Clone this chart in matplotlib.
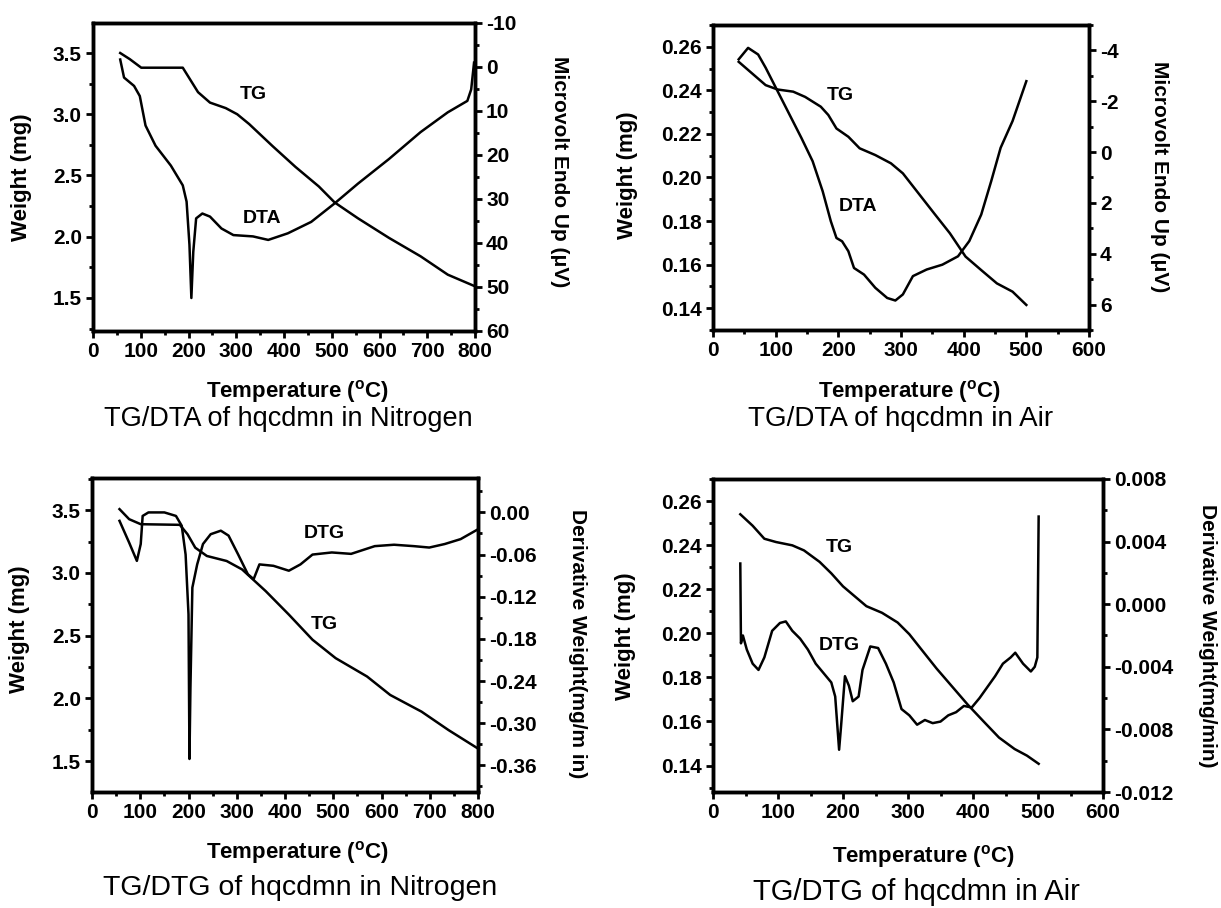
import numpy as np
import matplotlib
matplotlib.use('Agg')
import matplotlib.pyplot as plt
from matplotlib.ticker import MultipleLocator, FormatStrFormatter

plt.rcParams['font.family'] = ['Liberation Sans', 'DejaVu Sans']
plt.rcParams['font.weight'] = 'bold'
plt.rcParams['axes.unicode_minus'] = False
plt.rcParams['mathtext.fontset'] = 'custom'
plt.rcParams['mathtext.rm'] = 'Liberation Sans:bold'
plt.rcParams['mathtext.default'] = 'rm'

# --- TG/DTA in nitrogen ---
n_tg_T = [57, 77, 101, 140, 188, 204, 220, 245, 278, 302, 327, 376, 424, 473, 506, 555, 620, 686, 743, 800]
n_tg_W = [3.50, 3.45, 3.38, 3.38, 3.38, 3.28, 3.18, 3.095, 3.05, 3.0, 2.92, 2.74, 2.57, 2.41, 2.28, 2.15, 1.99, 1.84, 1.69, 1.595]
n_dta_T = [57, 65, 86, 98, 110, 131, 163, 188, 196, 202, 206, 210, 216, 229, 245, 269, 294, 335, 367,
           408, 457, 506, 555, 620, 686, 743, 784, 792, 798]
n_dta_V = [-1.7, 2.4, 4.3, 6.6, 13.3, 17.9, 22.4, 26.9, 30.6, 40.4, 52.5, 42.0, 34.4, 33.3, 34.0, 36.7, 38.2, 38.5, 39.3,
           37.8, 35.2, 31.0, 26.5, 20.9, 14.8, 10.3, 7.7, 5.1, -1.0]

# --- TG/DTA in air ---
a_tg_T = [41, 84, 103, 128, 147, 172, 184, 197, 216, 234, 259, 284, 303, 328, 353, 378, 403, 428, 453, 478, 500]
a_tg_W = [0.2531, 0.2424, 0.2404, 0.2394, 0.237, 0.2325, 0.2287, 0.2225, 0.2187, 0.2134, 0.2103, 0.2065,
          0.2019, 0.1927, 0.1835, 0.1744, 0.1637, 0.1575, 0.1514, 0.1476, 0.1415]
a_dta_T = [41, 56, 72, 84, 103, 122, 141, 159, 175, 188, 197, 206, 216, 225, 241, 259, 278, 291, 303, 319,
           341, 366, 391, 409, 428, 444, 459, 478, 500]
a_dta_V = [-3.65, -4.1, -3.84, -3.32, -2.4, -1.48, -0.56, 0.36, 1.54, 2.72, 3.38, 3.51, 3.9, 4.56, 4.82, 5.34,
           5.74, 5.84, 5.6, 4.88, 4.62, 4.43, 4.1, 3.5, 2.46, 1.14, -0.17, -1.22, -2.79]

# --- TG/DTG in nitrogen ---
n2_tg_T = [57, 77, 101, 182, 198, 214, 238, 279, 311, 360, 408, 457, 505, 570, 618, 683, 739, 800]
n2_tg_W = [3.508, 3.428, 3.388, 3.383, 3.308, 3.201, 3.135, 3.095, 3.028, 2.855, 2.668, 2.468, 2.321, 2.175,
           2.028, 1.895, 1.748, 1.601]
n2_dtg_T = [57, 77, 93, 101, 105, 117, 150, 174, 186, 194, 200, 202, 204, 208, 218, 230, 246, 267, 283, 303,
            323, 335, 347, 376, 408, 432, 457, 497, 537, 586, 626, 667, 699, 731, 764, 800]
n2_dtg_V = [-0.012, -0.043, -0.069, -0.045, -0.005, 0.0, 0.0, -0.005, -0.019, -0.06, -0.145, -0.351, -0.25,
            -0.107, -0.074, -0.045, -0.031, -0.026, -0.033, -0.06, -0.088, -0.095, -0.074, -0.076, -0.083,
            -0.074, -0.06, -0.057, -0.059, -0.048, -0.046, -0.048, -0.05, -0.045, -0.038, -0.024]

# --- TG/DTG in air ---
a2_tg_T = [42, 61, 79, 97, 122, 140, 164, 182, 200, 218, 236, 260, 284, 302, 320, 344, 368, 392, 416, 440, 464, 483, 501]
a2_tg_W = [0.254, 0.2488, 0.2429, 0.2414, 0.2399, 0.2376, 0.2324, 0.2272, 0.2213, 0.2168, 0.2123, 0.2093,
           0.2049, 0.1996, 0.1929, 0.184, 0.1758, 0.1676, 0.1601, 0.1527, 0.1475, 0.1445, 0.1408]
a2_dtg_T = [42, 43, 46, 52, 61, 70, 79, 91, 103, 112, 122, 134, 146, 158, 170, 182, 188, 194, 197, 203, 209,
            215, 224, 230, 242, 254, 266, 278, 290, 302, 314, 326, 338, 350, 362, 374, 386, 398, 410, 422,
            434, 446, 458, 465, 477, 489, 495, 499, 501]
a2_dtg_V = [0.0026, -0.0025, -0.002, -0.0029, -0.0038, -0.0042, -0.0034, -0.0017, -0.0012, -0.0011, -0.0017,
            -0.0022, -0.0029, -0.0038, -0.0044, -0.005, -0.0059, -0.0093, -0.0078, -0.0046, -0.0052, -0.0062,
            -0.0059, -0.0042, -0.0027, -0.0028, -0.0038, -0.005, -0.0067, -0.0071, -0.0077, -0.0074, -0.0076,
            -0.0075, -0.0071, -0.0069, -0.0065, -0.0066, -0.006, -0.0053, -0.0046, -0.0038, -0.0034, -0.0031,
            -0.0038, -0.0043, -0.004, -0.0034, 0.0056]

W, H = 1221, 908
fig = plt.figure(figsize=(W / 100, H / 100), dpi=100)


def box(l, t, r, b):
    return [l / W, 1 - b / H, (r - l) / W, (b - t) / H]


def ftext(x, y, s, **kw):
    fig.text(x / W, 1 - y / H, s, ha='center', va='center', **kw)


def style(ax, lim, maj, mnr, fmt):
    ax.set_ylim(*lim)
    ax.yaxis.set_major_locator(MultipleLocator(maj))
    ax.yaxis.set_minor_locator(MultipleLocator(mnr))
    ax.yaxis.set_major_formatter(FormatStrFormatter(fmt))
    ax.tick_params(which='major', direction='out', length=5, width=2, labelsize=15, pad=3)
    ax.tick_params(which='minor', direction='out', length=3, width=2)
    for s in ax.spines.values():
        s.set_linewidth(2.5)


lw = 1.8
temp_lab = 'Temperature ($^o$C)'

panels = [
    dict(pos=(93, 23, 475, 331), xmax=800, lim=(1.23, 3.745), maj=0.5, mnr=0.25, fmt='%.1f',
         rlim=(60, -10), rmaj=10, rmnr=5, rfmt='%d', rlab='Microvolt Endo Up (\u03bcV)',
         tg=(n_tg_T, n_tg_W), sec=(n_dta_T, n_dta_V),
         lab1=('TG', 335, 3.16), lab2=('DTA', 355, 2.15),
         xl=(298, 391), title=('TG/DTA of hqcdmn in Nitrogen', 288, 419, 19.5),
         yl=(22, 177), rl=(560, 172)),
    dict(pos=(713, 25, 1089, 330), xmax=600, lim=(0.13, 0.27), maj=0.02, mnr=0.01, fmt='%.2f',
         rlim=(7, -5), rmaj=2, rmnr=1, rfmt='%d', rlab='Microvolt Endo Up (\u03bcV)',
         tg=(a_tg_T, a_tg_W), sec=(a_dta_T, a_dta_V),
         lab1=('TG', 203, 0.2378), lab2=('DTA', 231, 0.1866),
         xl=(910, 391), title=('TG/DTA of hqcdmn in Air', 901, 419, 20),
         yl=(628, 175), rl=(1160, 177)),
    dict(pos=(92, 478, 478, 792), xmax=800, lim=(1.255, 3.756), maj=0.5, mnr=0.25, fmt='%.1f',
         rlim=(-0.398, 0.049), rmaj=0.06, rmnr=0.03, rfmt='%.2f', rlab='Derivative Weight(mg/m in)',
         tg=(n2_tg_T, n2_tg_W), sec=(n2_dtg_T, n2_dtg_V),
         lab1=('DTG', 481, 3.31), lab2=('TG', 481, 2.588),
         xl=(298, 852), title=('TG/DTG of hqcdmn in Nitrogen', 300, 888, 20.5),
         yl=(20, 629), rl=(577, 644)),
    dict(pos=(713, 479, 1103, 792), xmax=600, lim=(0.128, 0.27), maj=0.02, mnr=0.01, fmt='%.2f',
         rlim=(-0.012, 0.008), rmaj=0.004, rmnr=0.002, rfmt='%.3f', rlab='Derivative Weight(mg/min)',
         tg=(a2_tg_T, a2_tg_W), sec=(a2_dtg_T, a2_dtg_V),
         lab1=('TG', 194, 0.2391), lab2=('DTG', 194, 0.1944),
         xl=(924, 856), title=('TG/DTG of hqcdmn in Air', 916, 892, 21),
         yl=(626, 636), rl=(1207, 636)),
]

for p in panels:
    ax = fig.add_axes(box(*p['pos']))
    ax.set_xlim(0, p['xmax'])
    ax.xaxis.set_major_locator(MultipleLocator(100))
    ax.xaxis.set_minor_locator(MultipleLocator(50))
    style(ax, p['lim'], p['maj'], p['mnr'], p['fmt'])
    ax.plot(*p['tg'], color='black', lw=lw)
    for t, x, y in (p['lab1'], p['lab2']):
        ax.text(x, y, t, fontsize=14, ha='center', va='center')
    ax2 = ax.twinx()
    style(ax2, p['rlim'], p['rmaj'], p['rmnr'], p['rfmt'])
    ax2.plot(*p['sec'], color='black', lw=lw)
    ftext(*p['xl'], temp_lab, fontsize=16)
    t, tx, ty, ts = p['title']
    ftext(tx, ty, t, fontsize=ts, fontweight='normal')
    ftext(*p['yl'], 'Weight (mg)', fontsize=16, rotation=90)
    ftext(*p['rl'], p['rlab'], fontsize=15, rotation=270)

fig.savefig('out.png', dpi=100, facecolor='white')
